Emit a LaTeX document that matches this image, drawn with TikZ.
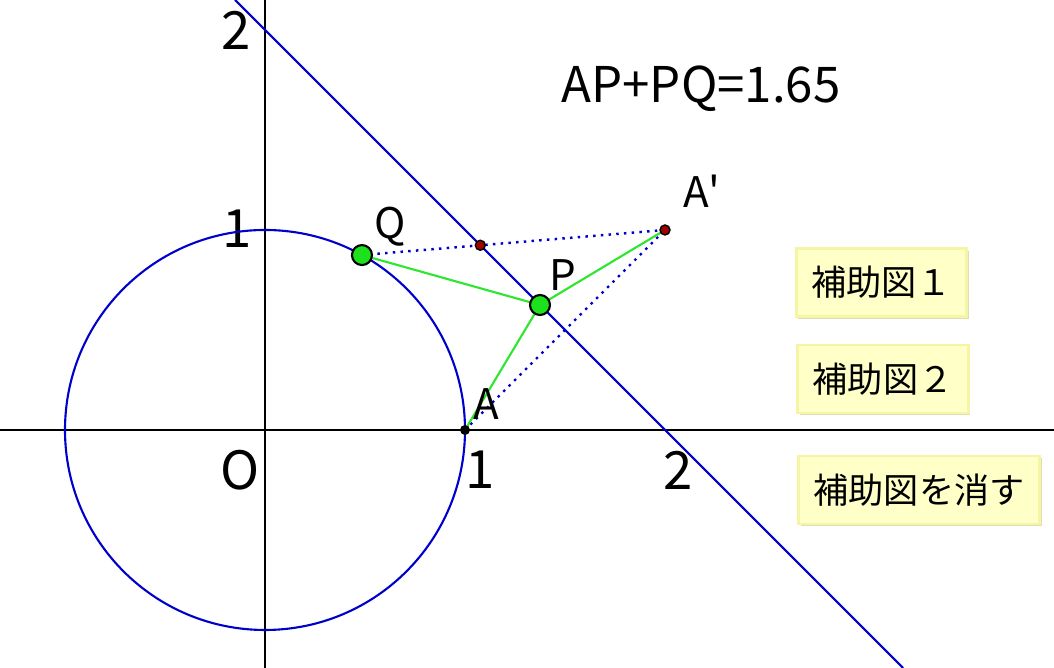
\documentclass[tikz,border=0pt]{standalone}
\usepackage{fontspec}
\setmainfont{Noto Sans CJK JP}
\usetikzlibrary{shadows}
\definecolor{lineblue}{RGB}{0,0,204}
\definecolor{seggreen}{RGB}{45,230,45}
\definecolor{ptgreen}{RGB}{30,225,30}
\definecolor{ptred}{RGB}{160,0,0}
\definecolor{btnfill}{RGB}{255,255,200}
\definecolor{btnedge}{RGB}{245,245,165}
\definecolor{btnshadow}{RGB}{222,222,180}
\tikzset{
  axislabel/.style={font=\fontsize{15}{18}\selectfont},
  ptlabel/.style={font=\fontsize{12}{14}\selectfont},
  bigpt/.style={draw=black, fill=ptgreen, line width=0.6pt},
  smallpt/.style={draw=black, fill=ptred, line width=0.4pt},
  button/.style={draw=btnedge, fill=btnfill, line width=0.8pt,
    font=\fontsize{10}{12}\selectfont, inner xsep=0.15cm,
    minimum height=0.68cm,
    drop shadow={shadow xshift=0.6pt, shadow yshift=-0.6pt,
      fill=btnshadow, opacity=1}},
}
\begin{document}
\begin{tikzpicture}[x=2cm, y=2cm, line width=0.6pt]
   \useasboundingbox (-1.325,-1.19) rectangle (3.945,2.15);
   \coordinate (O) at (0,0);
   \coordinate (A) at (1,0);
   \coordinate (Ap) at (2,1);
   \coordinate (P) at (1.375,0.625);
   \coordinate (Q) at (61:1);
   \coordinate (L1) at (-0.15,2.15);
   \coordinate (L2) at (3.19,-1.19);
   \coordinate (M) at (intersection of Q--Ap and L1--L2);

   % Axes
   \coordinate (Xl) at (-1.325,0);
   \coordinate (Xr) at (3.945,0);
   \coordinate (Yt) at (0,2.15);
   \coordinate (Yb) at (0,-1.19);
   \draw (Xl) -- (Xr);
   \draw (Yb) -- (Yt);
   \node[axislabel] (y2) at (-0.145,2.0) {2};
   \node[axislabel] (y1) at (-0.14,1.005) {1};
   \node[axislabel] (o) at (-0.125,-0.2) {O};
   \node[axislabel] (x1) at (1.075,-0.2) {1};
   \node[axislabel] (x2) at (2.065,-0.2) {2};

   % Circle and the line x+y=2
   \draw[lineblue] (O) circle[radius=1];
   \draw[lineblue] (L1) -- (L2);

   % Reflected path
   \draw[lineblue, line width=0.7pt, dash pattern=on 0.7pt off 1.5pt] (Q) -- (Ap);
   \draw[lineblue, line width=0.7pt, dash pattern=on 0.7pt off 1.5pt] (A) -- (Ap);
   \draw[seggreen] (A) -- (P);
   \draw[seggreen] (P) -- (Q);
   \draw[seggreen] (P) -- (Ap);

   % Points
   \fill (A) circle[radius=0.025];
   \draw[smallpt] (M) circle[radius=0.025];
   \draw[smallpt] (Ap) circle[radius=0.025];
   \draw[bigpt] (Q) circle[radius=0.05];
   \draw[bigpt] (P) circle[radius=0.05];
   \node[ptlabel] (lq) at (0.625,1.015) {Q};
   \node[ptlabel] (lp) at (1.49,0.775) {P};
   \node[ptlabel] (la) at (1.105,0.13) {A};
   \node[ptlabel] (lap) at (2.185,1.195) {A\textquotesingle};

   \node[font=\fontsize{14}{17}\selectfont] (sum) at (2.18,1.705) {AP+PQ=1.65};

   % Buttons
   \node[button] (b1) at (3.0825,0.7375) {補助図１};
   \node[button] (b2) at (3.09,0.255) {補助図２};
   \node[button] (b3) at (3.27,-0.30) {補助図を消す};
\end{tikzpicture}
\end{document}
